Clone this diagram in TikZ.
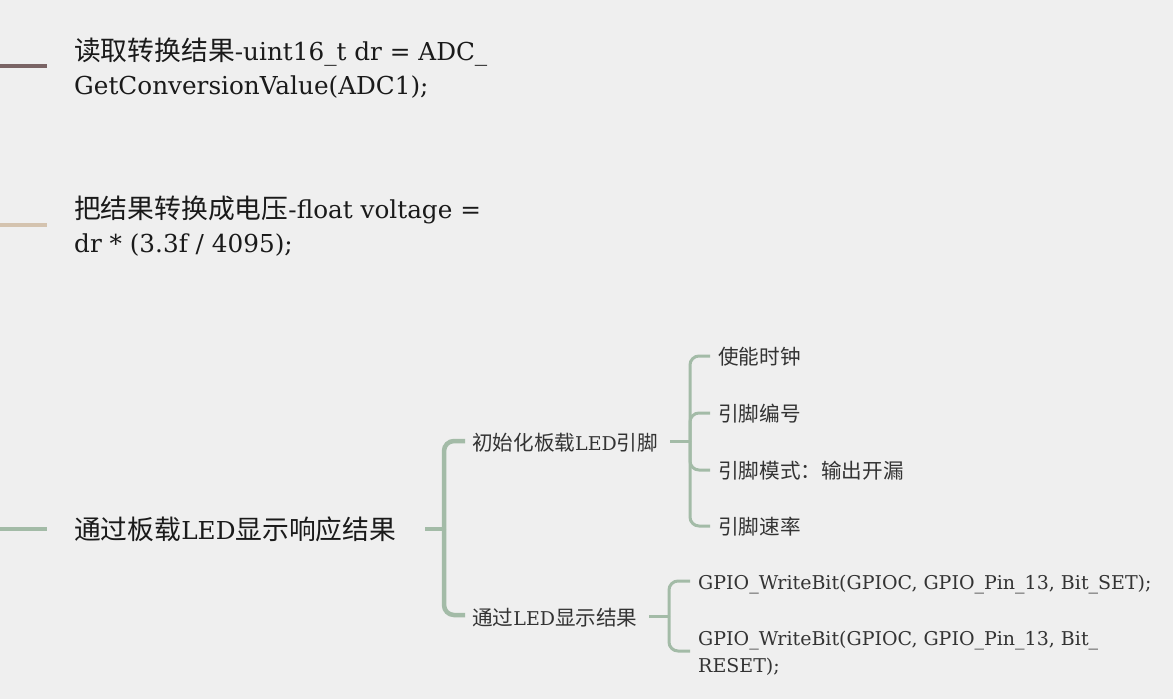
\documentclass[tikz,border=0pt]{standalone}
\usepackage{fontspec}
\setmainfont{DejaVu Serif}[Scale=0.95]
\newfontfamily\cjk{Noto Sans CJK SC}[Scale=1.03]
\newcommand\zh[1]{{\cjk #1}}
\definecolor{bg}{HTML}{EFEFEF}
\definecolor{txt}{HTML}{1A1A1A}
\definecolor{txtb}{HTML}{333333}
\definecolor{cbrown}{HTML}{7A6465}
\definecolor{ctan}{HTML}{D4C3AF}
\definecolor{cgreen}{HTML}{A3BBA7}
\tikzset{
  lvlone/.style={anchor=base west, inner sep=0, align=left, text=txt,
    font=\fontsize{26}{34}\selectfont},
  lvltwo/.style={anchor=base west, inner sep=0, align=left, text=txtb,
    font=\fontsize{20}{27}\selectfont},
  stub/.style={line width=4.5pt},
  branchA/.style={cgreen, line width=4.5pt, rounded corners=10pt},
  branchB/.style={cgreen, line width=3pt, rounded corners=9pt},
}
\begin{document}
\begin{tikzpicture}[x=1pt,y=-1pt]
\fill[bg] (0,0) rectangle (1173,699);
\useasboundingbox (0,0) rectangle (1173,699);

% top-level items (base anchor = baseline of the last line)
\node[lvlone] (t1) at (74,94) {\zh{读取转换结果}-uint16\_t dr = ADC\_\\GetConversionValue(ADC1);};
\node[lvlone] (t2) at (74,252) {\zh{把结果转换成电压}-float voltage =\\dr * (3.3f / 4095);};
\node[lvlone] (t3) at (74,539) {\zh{通过板载}LED\zh{显示响应结果}};

\coordinate (s1) at (0,66);  \coordinate (e1) at (47,66);
\coordinate (s2) at (0,225); \coordinate (e2) at (47,225);
\coordinate (s3) at (0,529); \coordinate (e3) at (47,529);
\draw[stub, cbrown] (s1) -- (e1);
\draw[stub, ctan] (s2) -- (e2);
\draw[stub, cgreen] (s3) -- (e3);

% second level
\node[lvltwo] (c1) at (472,450) {\zh{初始化板载}LED\zh{引脚}};
\node[lvltwo] (c2) at (472,625) {\zh{通过}LED\zh{显示结果}};

\coordinate (j3) at (425,529);
\coordinate (b3) at (444,529);
\coordinate (c1in) at (465,441);
\coordinate (c2in) at (465,615);
\draw[branchA] (j3) -- (b3);
\draw[branchA] (b3) |- (c1in);
\draw[branchA] (b3) |- (c2in);

% third level under c1
\node[lvltwo] (d1) at (718,364) {\zh{使能时钟}};
\node[lvltwo] (d2) at (718,421) {\zh{引脚编号}};
\node[lvltwo] (d3) at (718,478) {\zh{引脚模式：输出开漏}};
\node[lvltwo] (d4) at (718,534) {\zh{引脚速率}};

\coordinate (j1) at (670,441);
\coordinate (b1) at (690,441);
\coordinate (d1in) at (710,356);
\coordinate (d2in) at (710,413);
\coordinate (d3in) at (710,470);
\coordinate (d4in) at (710,526);
\draw[branchB] (j1) -- (b1);
\draw[branchB] (b1) |- (d1in);
\draw[branchB] (b1) |- (d2in);
\draw[branchB] (b1) |- (d3in);
\draw[branchB] (b1) |- (d4in);

% third level under c2
\node[lvltwo] (g1) at (698,589) {GPIO\_WriteBit(GPIOC, GPIO\_Pin\_13, Bit\_SET);};
\node[lvltwo] (g2) at (698,672) {GPIO\_WriteBit(GPIOC, GPIO\_Pin\_13, Bit\_\\RESET);};

\coordinate (j2) at (649,616);
\coordinate (b2) at (669,616);
\coordinate (g1in) at (690,581);
\coordinate (g2in) at (690,651);
\draw[branchB] (j2) -- (b2);
\draw[branchB] (b2) |- (g1in);
\draw[branchB] (b2) |- (g2in);
\end{tikzpicture}
\end{document}
